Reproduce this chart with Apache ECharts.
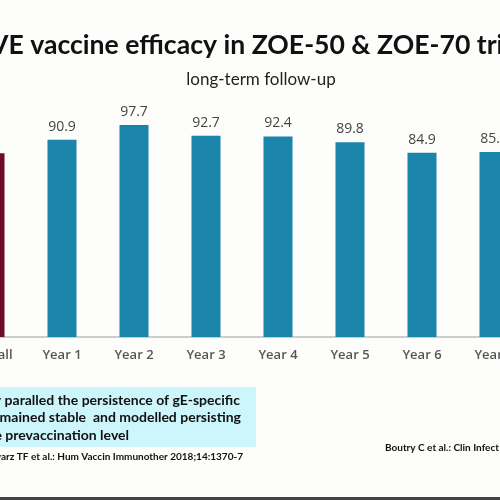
<!DOCTYPE html>
<html>
<head>
<meta charset="utf-8">
<script src="https://cdn.jsdelivr.net/npm/echarts@6/dist/echarts.min.js"></script>
<style>
  html, body { margin: 0; padding: 0; background: #fdfdfb; width: 500px; height: 500px; overflow: hidden; position: relative; }
  /* the slide is cropped: the chart canvas is wider than the window and shifted left */
  #main { position: absolute; left: -46px; top: 0; width: 576px; height: 500px; }
</style>
</head>
<body>
<div id="main"></div>
<script>
var categories = ['Overall', 'Year 1', 'Year 2', 'Year 3', 'Year 4', 'Year 5', 'Year 6', 'Year 7'];
var efficacy = [84.7, 90.9, 97.7, 92.7, 92.4, 89.8, 84.9, 85.3];
var barColors = ['#6e0b26', '#1b84ab', '#1b84ab', '#1b84ab', '#1b84ab', '#1b84ab', '#1b84ab', '#1b84ab'];

var titleText = 'VE vaccine efficacy in ZOE-50 & ZOE-70 trials';
var subtitleText = 'long-term follow-up';
var noteLines = [
  'efficacy paralled the persistence of gE-specific',
  'remained stable  and modelled persisting',
  'above the prevaccination level'
];
var leftCitation = 'Schwarz TF et al.: Hum Vaccin Immunother 2018;14:1370-7';
var rightCitation = 'Boutry C et al.: Clin Infect Dis 2021';

var dx = 46; // canvas offset, window x = canvas x - dx

var myChart = echarts.init(document.getElementById('main'));

var option = {
  backgroundColor: '#fdfdfb',
  animation: false,
  grid: { left: 0, right: 0, top: 120, bottom: 163 },
  xAxis: {
    type: 'category',
    data: categories,
    axisLine: { lineStyle: { color: '#bdbdbd', width: 1.5 } },
    axisTick: { show: false },
    axisLabel: {
      interval: 0,
      color: '#555',
      fontFamily: 'Open Sans',
      fontWeight: 600,
      fontSize: 13,
      margin: 12
    }
  },
  yAxis: {
    type: 'value',
    min: 0,
    max: 100,
    show: false,
    splitLine: { show: false }
  },
  series: [{
    type: 'bar',
    barWidth: 29,
    data: efficacy.map(function (v, i) {
      return { value: v, itemStyle: { color: barColors[i] } };
    }),
    label: {
      show: true,
      position: 'top',
      distance: 6,
      color: '#444',
      fontFamily: 'Open Sans',
      fontSize: 14,
      // the overall value sits outside the cropped slide
      formatter: function (p) { return p.dataIndex === 0 ? '' : p.value.toFixed(1); }
    }
  }],
  graphic: [
    {
      type: 'text', x: dx - 10, y: 45,
      style: { text: titleText, fill: '#111', font: 'bold 26.6px Lato', textVerticalAlign: 'middle' }
    },
    {
      type: 'text', x: dx + 261, y: 80,
      style: { text: subtitleText, fill: '#222', font: '17px Lato', textAlign: 'center', textVerticalAlign: 'middle' }
    },
    {
      type: 'rect', shape: { x: dx, y: 387, width: 256, height: 60 },
      style: { fill: '#ccf6fb' }
    },
    {
      type: 'text', x: dx + 240, y: 400,
      style: { text: noteLines[0], fill: '#111', font: 'bold 14px Lato', textAlign: 'right', textVerticalAlign: 'middle' }
    },
    {
      type: 'text', x: dx + 241, y: 417,
      style: { text: noteLines[1], fill: '#111', font: 'bold 14px Lato', textAlign: 'right', textVerticalAlign: 'middle' }
    },
    {
      type: 'text', x: dx + 129, y: 435,
      style: { text: noteLines[2], fill: '#111', font: 'bold 14px Lato', textAlign: 'right', textVerticalAlign: 'middle' }
    },
    {
      type: 'text', x: dx + 243, y: 457,
      style: { text: leftCitation, fill: '#111', font: 'bold 10px Lato', textAlign: 'right', textVerticalAlign: 'middle' }
    },
    {
      type: 'text', x: dx + 385, y: 448,
      style: { text: rightCitation, fill: '#111', font: 'bold 10px Lato', textAlign: 'left', textVerticalAlign: 'middle' }
    },
    {
      type: 'rect', shape: { x: 0, y: 497, width: 576, height: 3 },
      style: { fill: '#444' }
    }
  ]
};

myChart.setOption(option);
</script>
</body>
</html>
